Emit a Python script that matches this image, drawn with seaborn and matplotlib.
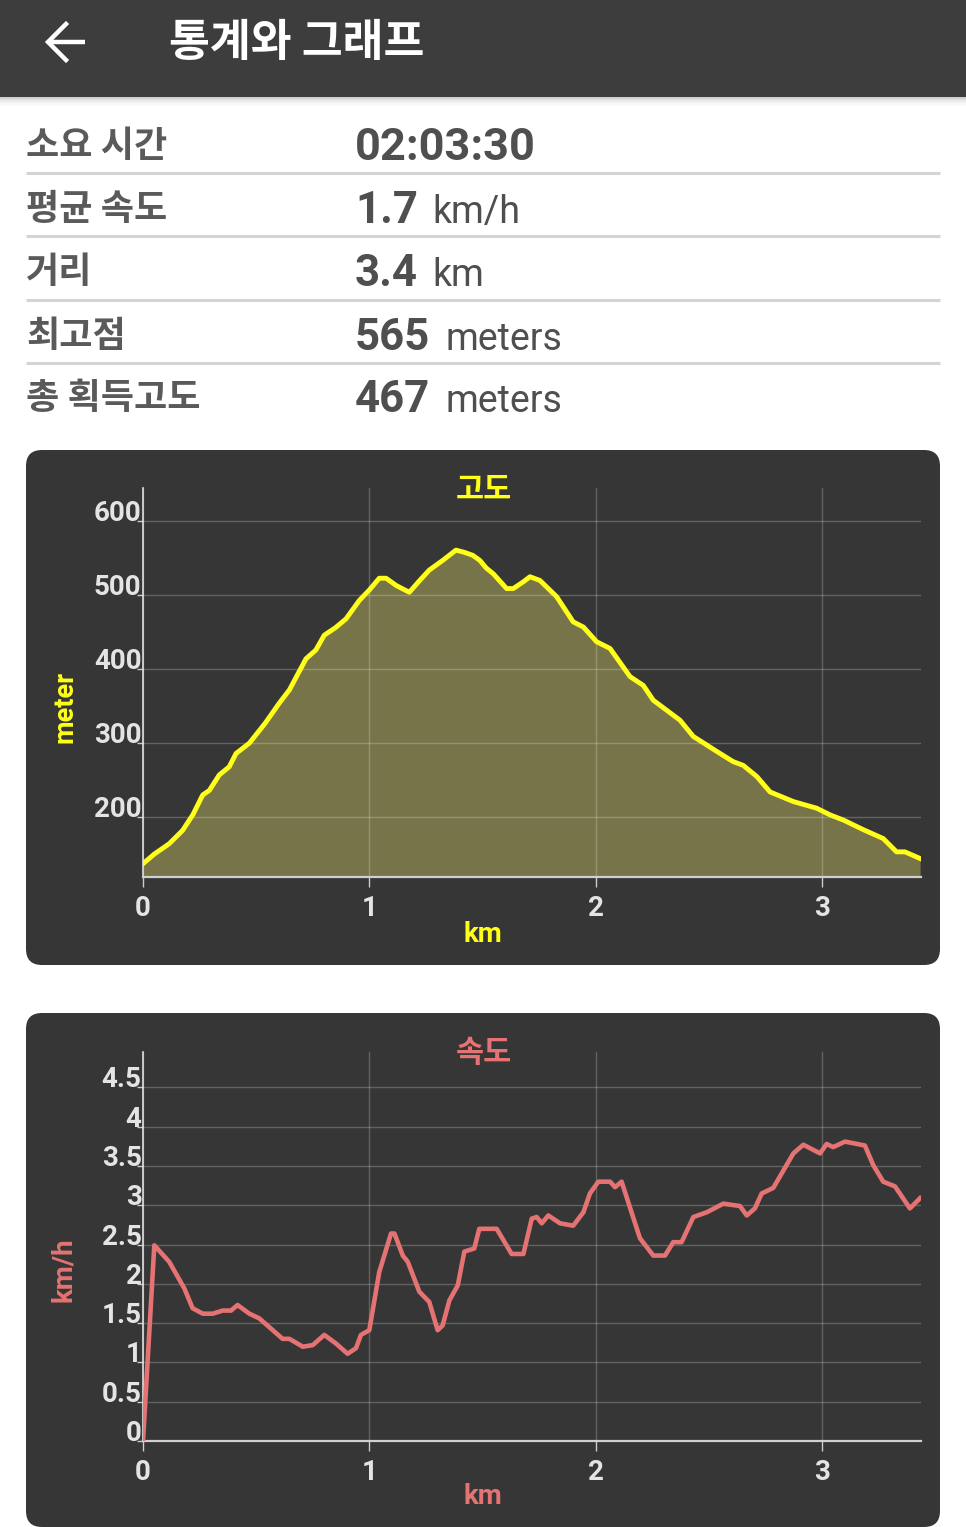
import matplotlib
matplotlib.use("Agg")
import matplotlib.pyplot as plt
from matplotlib.patches import FancyBboxPatch, Rectangle
import seaborn as sns
import numpy as np

# ---------------- data ----------------
header_title = "통계와 그래프"
stat_labels = ["소요 시간", "평균 속도", "거리", "최고점", "총 획득고도"]
stat_values = ["02:03:30", "1.7", "3.4", "565", "467"]
stat_units = ["", "km/h", "km", "meters", "meters"]

elev_km = [0.00, 0.05, 0.116, 0.175, 0.22, 0.264, 0.293, 0.337, 0.381, 0.411, 0.47, 0.54,
           0.602, 0.647, 0.72, 0.764, 0.801, 0.85, 0.897, 0.956, 1.0, 1.044, 1.074, 1.12,
           1.177, 1.22, 1.265, 1.324, 1.383, 1.42, 1.457, 1.489, 1.516, 1.548, 1.607, 1.636,
           1.68, 1.71, 1.754, 1.828, 1.901, 1.946, 2.005, 2.064, 2.152, 2.211, 2.255, 2.373,
           2.432, 2.55, 2.608, 2.652, 2.712, 2.771, 2.874, 2.977, 3.036, 3.095, 3.183, 3.271,
           3.33, 3.367, 3.434]
elev_m = [137, 150, 164, 182, 203, 230, 236, 257, 268, 286, 300, 327,
          354, 372, 414, 426, 446, 456, 468, 493, 507, 523, 523, 513,
          504, 519, 534, 547, 561, 558, 554, 547, 537, 529, 509, 509,
          518, 525, 520, 498, 464, 457, 437, 428, 390, 378, 358, 331,
          309, 286, 275, 270, 255, 234, 221, 212, 203, 196, 183, 171,
          153, 153, 144]

speed_km = [0.0, 0.05, 0.116, 0.183, 0.219, 0.264, 0.308, 0.352, 0.389, 0.418, 0.47, 0.514,
            0.617, 0.647, 0.706, 0.75, 0.801, 0.853, 0.904, 0.941, 0.963, 1.0, 1.044, 1.096,
            1.111, 1.148, 1.17, 1.221, 1.265, 1.302, 1.324, 1.354, 1.391, 1.42, 1.464, 1.486,
            1.563, 1.629, 1.681, 1.718, 1.74, 1.762, 1.791, 1.843, 1.901, 1.946, 1.975, 2.012,
            2.064, 2.086, 2.115, 2.196, 2.255, 2.307, 2.343, 2.38, 2.432, 2.491, 2.564, 2.638,
            2.668, 2.704, 2.734, 2.785, 2.874, 2.918, 2.992, 3.021, 3.05, 3.102, 3.19, 3.227,
            3.271, 3.323, 3.389, 3.434]
speed_kmh = [0.0, 2.49, 2.28, 1.94, 1.69, 1.62, 1.62, 1.66, 1.66, 1.73, 1.62, 1.56,
             1.30, 1.30, 1.20, 1.22, 1.35, 1.24, 1.11, 1.18, 1.35, 1.41, 2.15, 2.64,
             2.64, 2.36, 2.28, 1.90, 1.77, 1.41, 1.47, 1.79, 1.98, 2.41, 2.45, 2.70,
             2.70, 2.38, 2.38, 2.83, 2.85, 2.77, 2.87, 2.77, 2.74, 2.91, 3.15, 3.30,
             3.30, 3.23, 3.30, 2.58, 2.36, 2.36, 2.53, 2.53, 2.85, 2.91, 3.02, 2.99,
             2.87, 2.96, 3.15, 3.22, 3.66, 3.77, 3.66, 3.78, 3.74, 3.81, 3.76, 3.51,
             3.30, 3.24, 2.96, 3.09]

x_ticks = [0, 1, 2, 3]
elev_ticks = [200, 300, 400, 500, 600]
speed_ticks = [0, 0.5, 1, 1.5, 2, 2.5, 3, 3.5, 4, 4.5]
speed_tick_labels = ["0", "0.5", "1", "1.5", "2", "2.5", "3", "3.5", "4", "4.5"]

# ---------------- style ----------------
W, H = 966, 1527
NUM = ["Roboto", "Noto Sans CJK KR", "DejaVu Sans"]
KR = ["Noto Sans CJK KR", "DejaVu Sans"]
plt.rcParams["font.family"] = NUM

HEADER = "#3d3d3d"
PANEL = "#363636"
LABEL_GREY = "#5a5a5a"
YELLOW = "#ffff1a"
FILL = "#787449"
SALMON = "#e57373"
TICK_COL = "#e4e4e4"

fig = plt.figure(figsize=(W / 100, H / 100), dpi=100, facecolor="white")

# background layer in pixel coordinates
bg = fig.add_axes([0, 0, 1, 1], zorder=0)
bg.set_xlim(0, W)
bg.set_ylim(H, 0)
bg.axis("off")

# header bar + shadow
bg.add_patch(Rectangle((0, 0), W, 97, color=HEADER, lw=0))
for i, a in enumerate([0.18, 0.12, 0.08, 0.05, 0.03, 0.015]):
    bg.add_patch(Rectangle((0, 97 + i * 1.5), W, 1.5, color="black", alpha=a, lw=0))
# back arrow
bg.plot([48, 85], [42, 42], color="white", lw=3.2, solid_capstyle="butt")
bg.plot([66, 48, 66], [24, 42, 60], color="white", lw=3.2, solid_joinstyle="miter")
bg.text(169, 43, header_title, family=KR, fontsize=32, fontweight="bold",
        color="white", ha="left", va="center")

# stats table
baselines = [160, 223, 286.5, 349.5, 412.5]
unit_x = [None, 432, 432, 446, 446]
for i, (lab, val, unit) in enumerate(zip(stat_labels, stat_values, stat_units)):
    b = baselines[i]
    bg.text(26, b - 3, lab, family=KR, fontsize=26, fontweight="bold",
            color=LABEL_GREY, ha="left", va="baseline")
    bg.text(355, b, val, family=NUM, fontsize=32.5 if i == 0 else 31.5, fontweight="bold",
            color="#4f4f4f", ha="left", va="baseline")
    if unit:
        bg.text(unit_x[i], b, unit, family=NUM, fontsize=27, fontweight="normal",
                color="#4f4f4f", ha="left", va="baseline")
for y in [172.5, 236, 299.5, 363]:
    bg.plot([26, 940], [y, y], color="#d4d4d4", lw=2.2, solid_capstyle="butt")

# chart panels
bg.add_patch(FancyBboxPatch((26, 450), 914, 515, boxstyle="round,pad=0,rounding_size=16",
                            facecolor=PANEL, edgecolor="none"))
bg.add_patch(FancyBboxPatch((26, 1013), 914, 514, boxstyle="round,pad=0,rounding_size=16",
                            facecolor=PANEL, edgecolor="none"))


def style_axes(ax, yticks, ylabels):
    ax.set_facecolor("none")
    for s in ["top", "right"]:
        ax.spines[s].set_visible(False)
    ax.spines["left"].set_color("#e0e0e0")
    ax.spines["left"].set_linewidth(1.2)
    ax.spines["bottom"].set_color("#d0d0d0")
    ax.spines["bottom"].set_linewidth(1.6)
    ax.set_xticks(x_ticks)
    ax.set_xticklabels([str(t) for t in x_ticks])
    ax.set_yticks(yticks)
    ax.set_yticklabels(ylabels)
    ax.grid(True, color="white", alpha=0.22, linewidth=1.0)
    ax.tick_params(axis="x", length=7, width=1.0, color="#cccccc", pad=6,
                   labelsize=20, labelcolor=TICK_COL)
    ax.tick_params(axis="y", length=4, width=1.0, color="#cccccc", pad=-3,
                   labelsize=20, labelcolor=TICK_COL)
    for t in ax.get_xticklabels() + ax.get_yticklabels():
        t.set_fontweight("bold")
        t.set_family(NUM)
    for t in ax.get_yticklabels():
        t.set_verticalalignment("baseline")
    ax.set_xlabel("")
    ax.set_ylabel("")


# elevation chart
ax1 = fig.add_axes([143 / W, 1 - 877 / H, 778 / W, 389 / H], zorder=2)
ax1.fill_between(elev_km, elev_m, 119, color=FILL, lw=0, zorder=1)
sns.lineplot(x=elev_km, y=elev_m, ax=ax1, color=YELLOW, linewidth=3.5,
             sort=False, estimator=None, zorder=3)
ax1.set_xlim(0, 3.438)
ax1.set_ylim(119, 645)
style_axes(ax1, elev_ticks, [str(t) for t in elev_ticks])

# speed chart
ax2 = fig.add_axes([143 / W, 1 - 1441 / H, 778 / W, 389 / H], zorder=2)
sns.lineplot(x=speed_km, y=speed_kmh, ax=ax2, color=SALMON, linewidth=3.3,
             sort=False, estimator=None, zorder=3)
ax2.set_xlim(0, 3.438)
ax2.set_ylim(0, 4.95)
style_axes(ax2, speed_ticks, speed_tick_labels)

# chart titles / labels
bg.text(484, 490, "고도", family=KR, fontsize=22, fontweight="bold", color=YELLOW,
        ha="center", va="center", zorder=5)
bg.text(483, 934, "km", family=NUM, fontsize=20, fontweight="bold", color=YELLOW,
        ha="center", va="center")
bg.text(65, 707, "meter", family=NUM, fontsize=19.5, fontweight="bold", color=YELLOW,
        ha="center", va="center", rotation=90)

bg.text(484, 1053, "속도", family=KR, fontsize=22, fontweight="bold", color=SALMON,
        ha="center", va="center", zorder=5)
bg.text(483, 1497, "km", family=NUM, fontsize=20, fontweight="bold", color=SALMON,
        ha="center", va="center")
bg.text(64, 1270, "km/h", family=NUM, fontsize=20, fontweight="bold", color=SALMON,
        ha="center", va="center", rotation=90)

fig.savefig("out.png", dpi=100, facecolor="white")
